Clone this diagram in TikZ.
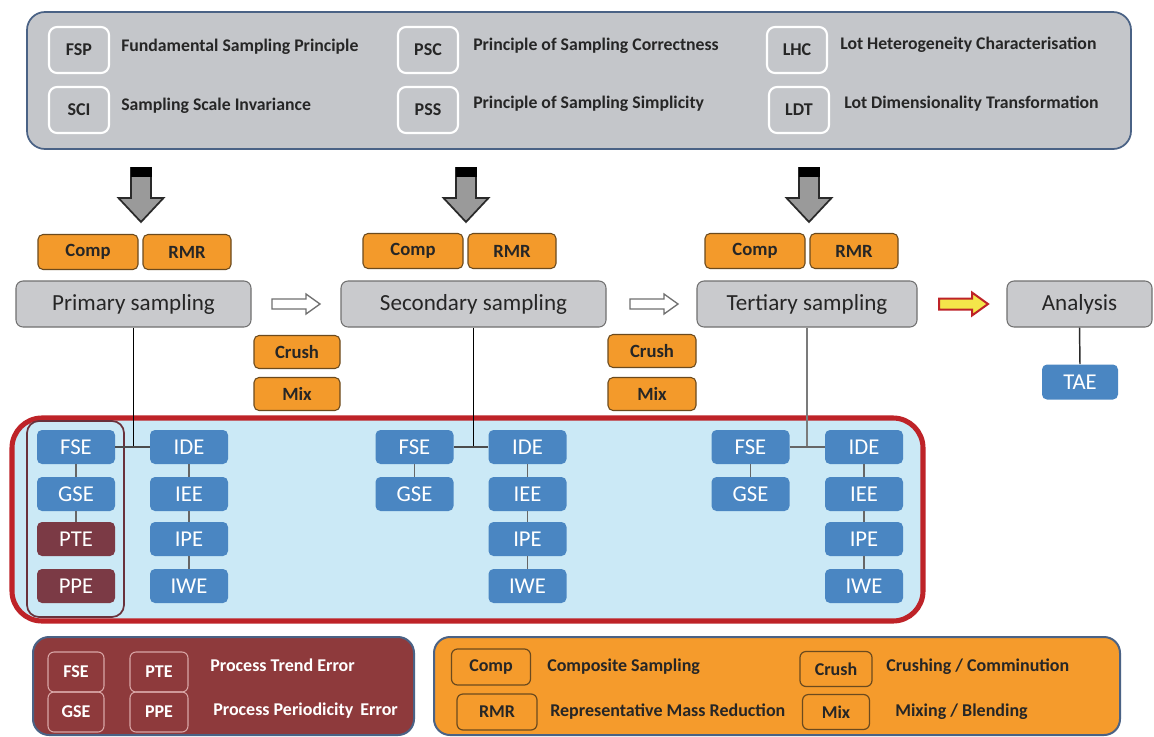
\documentclass[tikz,border=0pt]{standalone}
\usepackage{fontspec}
\setmainfont{Carlito}
\definecolor{topgrey}{HTML}{C4C6CA}
\definecolor{topedge}{HTML}{4A6285}
\definecolor{orng}{HTML}{F39A2B}
\definecolor{orngedge}{HTML}{6B4A1E}
\definecolor{sgrey}{HTML}{C9CACD}
\definecolor{sedge}{HTML}{707070}
\definecolor{bblue}{HTML}{4A86C2}
\definecolor{maroonbox}{HTML}{7B3A45}
\definecolor{lblue}{HTML}{CBE9F6}
\definecolor{redb}{HTML}{BE2328}
\definecolor{legm}{HTML}{8E3A3C}
\definecolor{lego}{HTML}{F59B2C}
\definecolor{txt}{HTML}{262626}
\definecolor{arrgrey}{HTML}{9A9A9A}
\definecolor{arrdark}{HTML}{2A2A2A}
\definecolor{pinkedge}{HTML}{D9A6A6}
\definecolor{yelw}{HTML}{F4E64A}
\def\u{0.75pt}
\tikzset{
  abbr/.style={draw=white, line width=1.6pt, fill=topgrey, rounded corners=8*\u,
    font=\bfseries\fontsize{13.5}{15}\selectfont, text=txt, minimum width=60*\u, minimum height=46*\u, inner sep=0pt},
  desc/.style={anchor=west, inner sep=0pt, font=\bfseries\fontsize{13.3}{15}\selectfont, text=txt},
  orbox/.style={draw=orngedge, line width=0.8pt, fill=orng, rounded corners=5*\u,
    font=\bfseries\fontsize{14}{16}\selectfont, text=txt, minimum height=35*\u, inner sep=0pt},
  sampbox/.style={draw=sedge, line width=0.8pt, fill=sgrey, rounded corners=7*\u,
    font=\fontsize{17.3}{20}\selectfont, text=txt, minimum height=46*\u, inner sep=0pt},
  bluebox/.style={fill=bblue, rounded corners=5*\u, font=\fontsize{17}{19}\selectfont, text=white,
    minimum width=78*\u, minimum height=34*\u, inner sep=0pt},
  marbox/.style={bluebox, fill=maroonbox},
  conn/.style={draw=arrdark, line width=1.1pt},
  legabbr/.style={draw=pinkedge, line width=0.8pt, rounded corners=6*\u,
    font=\bfseries\fontsize{13.5}{15}\selectfont, text=white, minimum height=40*\u, inner sep=0pt},
  legdesc/.style={anchor=west, inner sep=0pt, font=\bfseries\fontsize{13.5}{15}\selectfont},
  legobox/.style={draw=orngedge, line width=0.9pt, rounded corners=6*\u,
    font=\bfseries\fontsize{13.5}{15}\selectfont, text=txt, minimum height=36*\u, inner sep=0pt},
}
\begin{document}
\begin{tikzpicture}[x=0.75pt,y=-0.75pt]
\useasboundingbox (0,0) rectangle (1154,736);
\fill[white] (0,0) rectangle (1154,736);

% top principles box
\node[draw=topedge, line width=1.3pt, fill=topgrey, rounded corners=18*\u,
  minimum width=1104*\u, minimum height=137*\u] (top) at (579,80.5) {};
\node[abbr] (fsp) at (79,50) {FSP};
\node[abbr] (sci) at (79,110) {SCI};
\node[abbr] (psc) at (428,50) {PSC};
\node[abbr] (pss) at (428,110) {PSS};
\node[abbr] (lhc) at (797,50) {LHC};
\node[abbr] (ldt) at (799,110) {LDT};
\node[desc] (tfsp) at (121,47) {Fundamental Sampling Principle};
\node[desc] (tsci) at (121,106) {Sampling Scale Invariance};
\node[desc] (tpsc) at (473,46) {Principle of Sampling Correctness};
\node[desc] (tpss) at (473,104) {Principle of Sampling Simplicity};
\node[desc] (tlhc) at (840,45) {Lot Heterogeneity Characterisation};
\node[desc] (tldt) at (844,104) {Lot Dimensionality Transformation};

% down arrows
\foreach \cx in {141,466,809}{
  \draw[fill=arrgrey, draw=arrdark, line width=1.3pt, line join=miter]
    (\cx-10,168) -- (\cx+10,168) -- (\cx+10,198) -- (\cx+22.5,198) -- (\cx,222)
    -- (\cx-22.5,198) -- (\cx-10,198) -- cycle;
  \fill[black] (\cx-10.5,167) rectangle (\cx+10.5,177);
}

% Comp / RMR
\node[orbox, minimum width=100*\u] (comp1) at (88,252) {Comp};
\node[orbox, minimum width=88*\u] (rmr1) at (187,252) {RMR};
\node[orbox, minimum width=100*\u] (comp2) at (413,251) {Comp};
\node[orbox, minimum width=88*\u] (rmr2) at (512,251) {RMR};
\node[orbox, minimum width=100*\u] (comp3) at (755,251) {Comp};
\node[orbox, minimum width=88*\u] (rmr3) at (854,251) {RMR};

% sampling boxes
\node[sampbox, minimum width=235*\u] (prim) at (133.5,304) {Primary sampling};
\node[sampbox, minimum width=265*\u] (sec) at (473.5,304) {Secondary sampling};
\node[sampbox, minimum width=220*\u] (ter) at (807,304) {Tertiary sampling};
\node[sampbox, minimum width=145*\u] (ana) at (1079.5,304) {Analysis};

% open arrows
\foreach \xa in {272,630}{
  \draw[fill=white, draw=sedge, line width=1pt]
    (\xa,299) -- (\xa+34,299) -- (\xa+34,294) -- (\xa+48,304) -- (\xa+34,314)
    -- (\xa+34,309) -- (\xa,309) -- cycle;
}
\draw[fill=yelw, draw=redb, line width=1.5pt]
  (939,298.5) -- (972,298.5) -- (972,292.5) -- (988,304) -- (972,315.5)
  -- (972,309.5) -- (939,309.5) -- cycle;

% Crush / Mix
\node[orbox, minimum width=86*\u, minimum height=33*\u] (crush1) at (297,352) {Crush};
\node[orbox, minimum width=86*\u, minimum height=33*\u] (mix1) at (297,394) {Mix};
\node[orbox, minimum width=88*\u, minimum height=33*\u] (crush2) at (652,351) {Crush};
\node[orbox, minimum width=88*\u, minimum height=33*\u] (mix2) at (652,394) {Mix};

% TAE
\node[bluebox, minimum width=76*\u, minimum height=35*\u] (tae) at (1080,382) {TAE};
\draw[conn] (ana.south) -- (tae.north);

% error area
\node[draw=redb, line width=3.8pt, fill=lblue, rounded corners=30*\u,
  minimum width=911*\u, minimum height=203*\u] (errarea) at (467.5,519.5) {};
\node[draw=maroonbox!85!black, line width=1.3pt, rounded corners=12*\u,
  minimum width=97*\u, minimum height=196*\u] (procgrp) at (75.5,519) {};

% group 1
\node[bluebox] (fse1) at (76,447) {FSE};
\node[bluebox] (gse1) at (76,494) {GSE};
\node[marbox] (pte1) at (76,539) {PTE};
\node[marbox] (ppe1) at (76,586) {PPE};
\node[bluebox] (ide1) at (189,447) {IDE};
\node[bluebox] (iee1) at (189,494) {IEE};
\node[bluebox] (ipe1) at (189,539) {IPE};
\node[bluebox] (iwe1) at (189,586) {IWE};
% group 2
\node[bluebox] (fse2) at (414.5,447) {FSE};
\node[bluebox] (gse2) at (414.5,494) {GSE};
\node[bluebox] (ide2) at (527.5,447) {IDE};
\node[bluebox] (iee2) at (527.5,494) {IEE};
\node[bluebox] (ipe2) at (527.5,539) {IPE};
\node[bluebox] (iwe2) at (527.5,586) {IWE};
% group 3
\node[bluebox] (fse3) at (750.5,447) {FSE};
\node[bluebox] (gse3) at (750.5,494) {GSE};
\node[bluebox] (ide3) at (864,447) {IDE};
\node[bluebox] (iee3) at (864,494) {IEE};
\node[bluebox] (ipe3) at (864,539) {IPE};
\node[bluebox] (iwe3) at (864,586) {IWE};

% connectors
\coordinate (j1) at (prim.south |- fse1.east);
\coordinate (j2) at (sec.south |- fse2.east);
\coordinate (j3) at (ter.south |- fse3.east);
\draw[conn, draw=black] (prim.south) -- (j1);
\draw[conn, draw=black] (sec.south) -- (j2);
\draw[conn, draw=arrgrey!80!black] (ter.south) -- (j3);
\draw[conn, draw=black!70] (fse1.east) -- (ide1.west);
\draw[conn, draw=black!70] (fse2.east) -- (ide2.west);
\draw[conn, draw=black!60] (fse3.east) -- (ide3.west);
\draw[conn, draw=black!60] (fse1) -- (gse1) (gse1) -- (pte1);
\draw[conn, draw=black!60] (ide1) -- (iee1) (iee1) -- (ipe1) (ipe1) -- (iwe1);
\draw[conn, draw=black!60] (fse2) -- (gse2);
\draw[conn, draw=black!60] (ide2) -- (iee2) (iee2) -- (ipe2) (ipe2) -- (iwe2);
\draw[conn, draw=black!60] (fse3) -- (gse3);
\draw[conn, draw=black!60] (ide3) -- (iee3) (iee3) -- (ipe3) (ipe3) -- (iwe3);

% legend: process errors
\node[draw=topedge, line width=1.5pt, fill=legm, rounded corners=16*\u,
  minimum width=381*\u, minimum height=98*\u] (legA) at (223.5,686) {};
\node[legabbr, minimum width=56*\u] (lfse) at (76,672) {FSE};
\node[legabbr, minimum width=58*\u] (lpte) at (159,672) {PTE};
\node[legabbr, minimum width=56*\u] (lgse) at (76,712) {GSE};
\node[legabbr, minimum width=58*\u] (lppe) at (159,712) {PPE};
\node[legdesc, text=white] (tpte) at (210,665) {Process Trend Error};
\node[legdesc, text=white] (tppe) at (213,711) {Process Periodicity\, Error};

% legend: operations
\node[draw=topedge, line width=1.5pt, fill=lego, rounded corners=16*\u,
  minimum width=686*\u, minimum height=98*\u] (legB) at (777,686) {};
\node[legobox, minimum width=79*\u] (lcomp) at (491,667) {Comp};
\node[legobox, minimum width=80*\u] (lrmr) at (497,712) {RMR};
\node[legobox, minimum width=72*\u, minimum height=35*\u] (lcrush) at (836,669) {Crush};
\node[legobox, minimum width=67*\u, minimum height=35*\u] (lmix) at (836,712) {Mix};
\node[legdesc, text=txt] (tcomp) at (547,667) {Composite Sampling};
\node[legdesc, text=txt] (trmr) at (550,712) {Representative Mass Reduction};
\node[legdesc, text=txt] (tcrush) at (886,667) {Crushing / Comminution};
\node[legdesc, text=txt] (tmix) at (895,712) {Mixing / Blending};
\end{tikzpicture}
\end{document}
